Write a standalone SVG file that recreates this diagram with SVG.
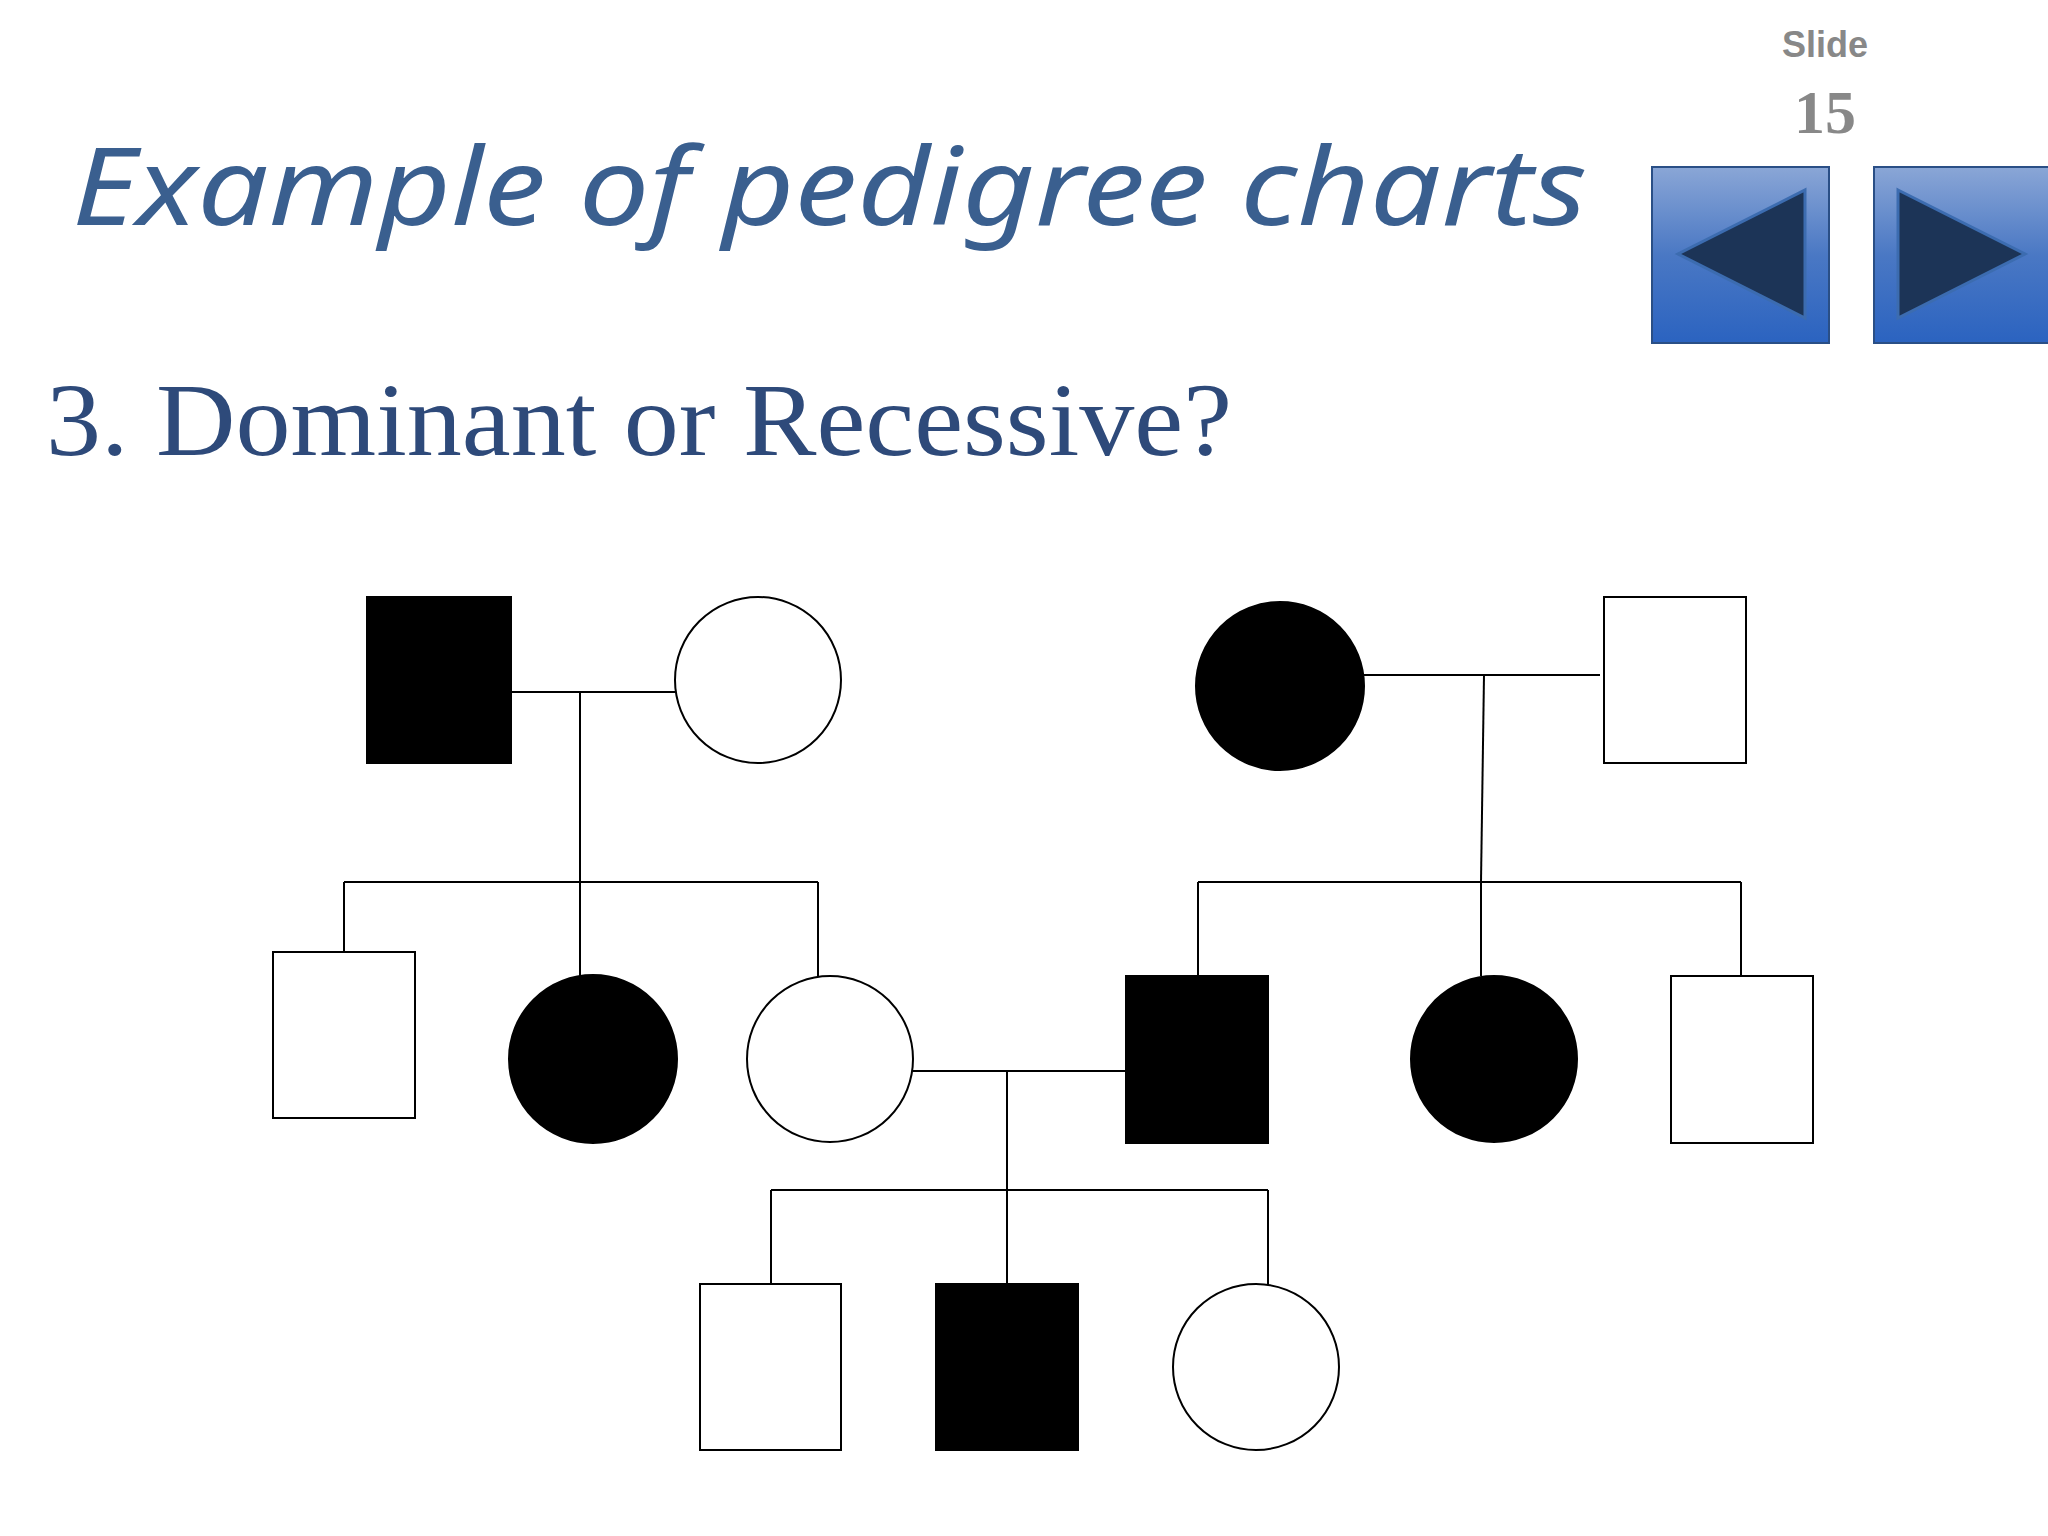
<svg xmlns="http://www.w3.org/2000/svg" width="2048" height="1536" viewBox="0 0 2048 1536">
<style>
.e{fill:#fff;stroke:#000;stroke-width:2}
.f{fill:#000;stroke:#000;stroke-width:2}
.c line{stroke:#000;stroke-width:2}
.btn{fill:url(#g);stroke:#2a4f86;stroke-width:2}
.tri{fill:#1c3457;stroke:#3c6cb0;stroke-width:3}
</style>
<defs>
<linearGradient id="g" x1="0" y1="0" x2="0" y2="1">
<stop offset="0" stop-color="#8aa6d6"/><stop offset="0.5" stop-color="#4a78c4"/><stop offset="1" stop-color="#2b63c0"/>
</linearGradient>
</defs>
<rect width="2048" height="1536" fill="#fff"/>
<text x="72" y="225" font-family="Noto Sans, sans-serif" font-style="italic" font-size="108" fill="#3a5f8f" textLength="1515" lengthAdjust="spacingAndGlyphs">Example of pedigree charts</text>
<text x="46" y="455" font-family="Liberation Serif, serif" font-size="104" fill="#2e4a7a" textLength="1186" lengthAdjust="spacingAndGlyphs">3. Dominant or Recessive?</text>
<text x="1825" y="57" text-anchor="middle" font-family="Liberation Sans, sans-serif" font-weight="bold" font-size="36" fill="#888">Slide</text>
<text x="1825" y="133" text-anchor="middle" font-family="Liberation Serif, serif" font-weight="bold" font-size="62" fill="#888">15</text>
<g id="prev"><rect class="btn" x="1652" y="167" width="177" height="176"/><polygon class="tri" points="1805,190 1805,318 1678,254"/></g>
<g id="next"><rect class="btn" x="1874" y="167" width="180" height="176"/><polygon class="tri" points="1898,190 2025,254 1898,318"/></g>
<g class="c" id="connectors">
<line x1="511" y1="692" x2="675" y2="692"/><line x1="580" y1="692" x2="580" y2="882"/>
<line x1="344" y1="882" x2="818" y2="882"/>
<line x1="344" y1="882" x2="344" y2="952"/><line x1="580" y1="882" x2="580" y2="976"/><line x1="818" y1="882" x2="818" y2="976"/>
<line x1="1364" y1="675" x2="1600" y2="675"/><line x1="1484" y1="675" x2="1481" y2="882"/>
<line x1="1198" y1="882" x2="1741" y2="882"/>
<line x1="1198" y1="882" x2="1198" y2="976"/><line x1="1481" y1="882" x2="1481" y2="976"/><line x1="1741" y1="882" x2="1741" y2="976"/>
<line x1="913" y1="1071" x2="1126" y2="1071"/><line x1="1007" y1="1071" x2="1007" y2="1284"/>
<line x1="771" y1="1190" x2="1268" y2="1190"/>
<line x1="771" y1="1190" x2="771" y2="1284"/><line x1="1268" y1="1190" x2="1268" y2="1285"/>
</g>
<g id="n1"><rect class="f" x="367" y="597" width="144" height="166"/></g>
<g id="n2"><circle class="e" cx="758" cy="680" r="83"/></g>
<g id="n3"><circle class="f" cx="1280" cy="686" r="84"/></g>
<g id="n4"><rect class="e" x="1604" y="597" width="142" height="166"/></g>
<g id="n5"><rect class="e" x="273" y="952" width="142" height="166"/></g>
<g id="n6"><circle class="f" cx="593" cy="1059" r="84"/></g>
<g id="n7"><circle class="e" cx="830" cy="1059" r="83"/></g>
<g id="n8"><rect class="f" x="1126" y="976" width="142" height="167"/></g>
<g id="n9"><circle class="f" cx="1494" cy="1059" r="83"/></g>
<g id="n10"><rect class="e" x="1671" y="976" width="142" height="167"/></g>
<g id="n11"><rect class="e" x="700" y="1284" width="141" height="166"/></g>
<g id="n12"><rect class="f" x="936" y="1284" width="142" height="166"/></g>
<g id="n13"><circle class="e" cx="1256" cy="1367" r="83"/></g>
</svg>
